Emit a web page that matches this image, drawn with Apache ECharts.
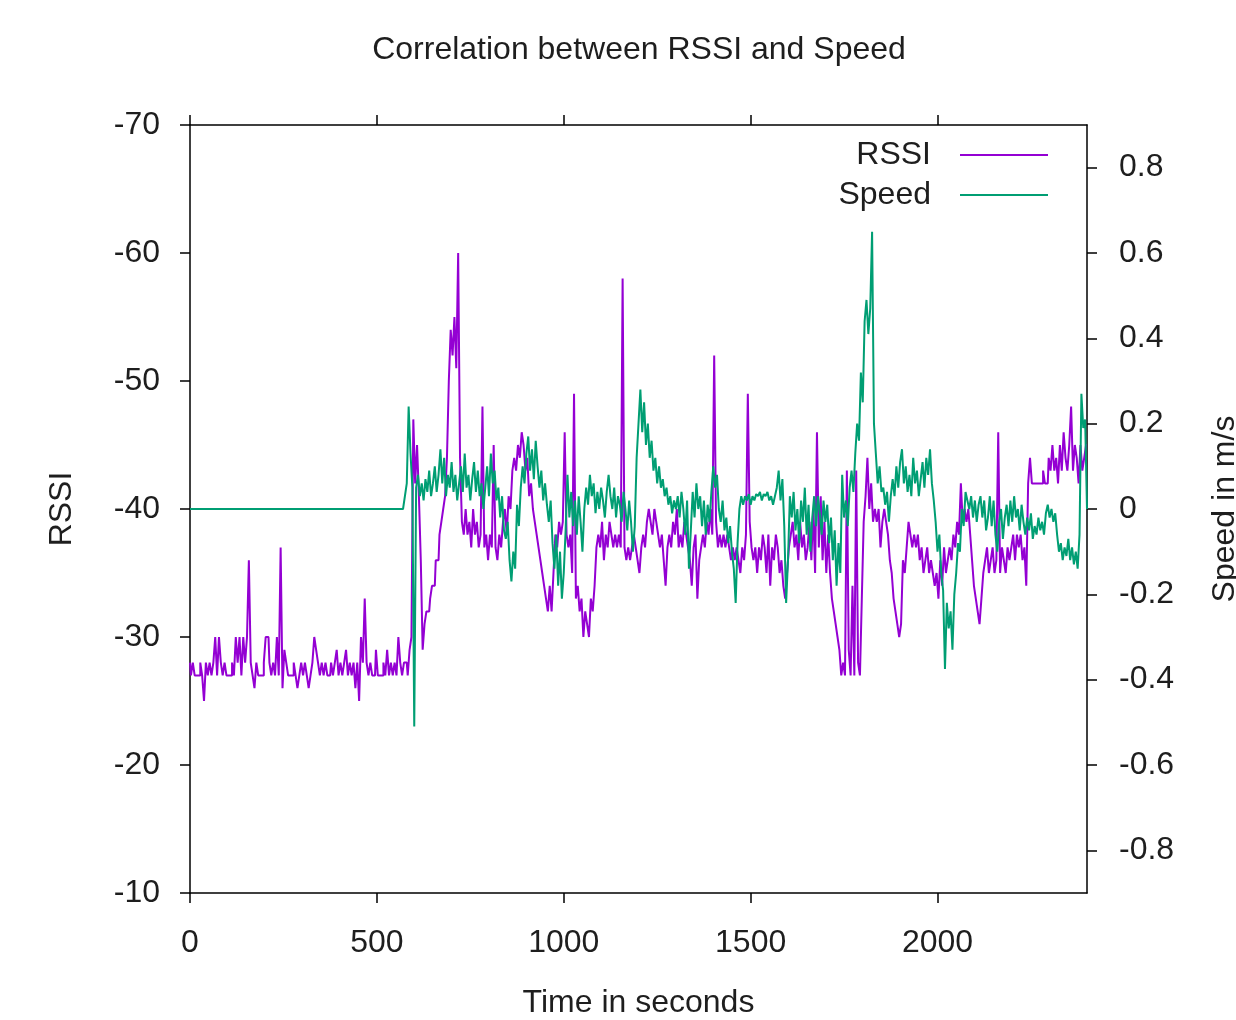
<!DOCTYPE html>
<html><head><meta charset="utf-8">
<script src="https://cdn.jsdelivr.net/npm/echarts@6/dist/echarts.min.js"></script>
<style>html,body{margin:0;padding:0;background:#fff}#c{width:1236px;height:1020px}</style>
</head><body><div id="c"></div>
<script>
const TITLE = 'Correlation between RSSI and Speed';
const X_NAME = 'Time in seconds';
const Y_NAME = 'RSSI';
const Y2_NAME = 'Speed in m/s';
const SERIES_NAMES = ['RSSI', 'Speed'];
const X_TICKS = [0, 500, 1000, 1500, 2000];
const RSSI_TICKS = [-70, -60, -50, -40, -30, -20, -10];
const SPEED_TICKS = [-0.8, -0.6, -0.4, -0.2, 0, 0.2, 0.4, 0.6, 0.8];
const SAMPLE_STEP = 5; // seconds between samples, first sample at t = 0

// RSSI, one row per 100 s (20 samples)
const RSSI = [
-28,-27,-28,-27,-27,-27,-28,-27,-25,-28,-27,-28,-27,-28,-30,-27,-30,-28,-27,-28,
-27,-27,-27,-28,-27,-30,-28,-30,-27,-30,-28,-30,-36,-28,-27,-26,-28,-27,-27,-27,
-28,-30,-30,-28,-27,-28,-27,-30,-27,-37,-26,-29,-28,-27,-27,-27,-28,-27,-26,-27,
-28,-27,-28,-27,-26,-27,-28,-30,-29,-28,-27,-28,-27,-28,-27,-27,-28,-27,-28,-29,
-27,-28,-27,-28,-29,-27,-28,-27,-28,-26,-28,-25,-30,-28,-33,-28,-27,-28,-27,-27,
-29,-27,-27,-27,-28,-27,-29,-27,-28,-27,-28,-27,-30,-28,-27,-28,-28,-27,-29,-30,
-47,-42,-45,-41,-36,-29,-31,-32,-32,-33,-34,-34,-36,-36,-38,-39,-40,-41,-44,-50,
-54,-52,-55,-51,-60,-44,-39,-38,-40,-38,-39,-37,-40,-38,-39,-37,-38,-48,-37,-38,
-36,-38,-37,-45,-37,-36,-38,-37,-39,-40,-38,-41,-40,-43,-44,-43,-45,-44,-46,-45,
-43,-44,-41,-42,-40,-39,-38,-37,-36,-35,-34,-33,-32,-34,-32,-35,-38,-37,-39,-38,
-39,-46,-38,-37,-38,-35,-49,-33,-34,-32,-33,-30,-32,-31,-30,-33,-32,-34,-37,-38,
-37,-39,-36,-38,-37,-39,-38,-37,-38,-37,-38,-37,-58,-37,-36,-37,-36,-37,-38,-37,
-36,-35,-37,-38,-37,-39,-40,-39,-38,-40,-39,-38,-37,-38,-36,-34,-37,-38,-37,-39,
-38,-40,-37,-38,-37,-39,-38,-37,-36,-34,-37,-38,-33,-36,-37,-38,-37,-39,-38,-40,
-38,-52,-39,-37,-38,-37,-38,-37,-38,-37,-36,-37,-36,-37,-36,-35,-37,-36,-38,-49,
-39,-37,-36,-37,-35,-37,-36,-38,-37,-35,-38,-34,-37,-36,-38,-37,-35,-36,-34,-33,
-35,-37,-38,-39,-37,-38,-36,-39,-37,-38,-36,-37,-39,-36,-40,-35,-46,-37,-41,-36,
-39,-35,-38,-35,-33,-32,-31,-30,-29,-27,-28,-27,-43,-29,-27,-34,-27,-43,-28,-27,
-33,-39,-41,-44,-40,-42,-39,-40,-39,-40,-37,-39,-40,-39,-38,-36,-35,-33,-32,-31,
-30,-31,-36,-35,-37,-39,-38,-37,-38,-37,-38,-36,-37,-35,-36,-37,-35,-36,-35,-34,
-35,-33,-36,-34,-37,-35,-36,-37,-36,-38,-37,-39,-38,-42,-39,-40,-39,-40,-38,-36,
-34,-33,-32,-31,-33,-35,-36,-37,-35,-36,-37,-35,-36,-46,-35,-37,-36,-35,-37,-36,
-37,-38,-36,-38,-37,-38,-36,-37,-34,-42,-44,-42,-42,-42,-42,-42,-42,-43,-42,-42,
-44,-43,-45,-43,-44,-42,-45,-43,-46,-44,-43,-45,-48,-43,-45,-44,-42,-45,-43,-44,
-45
];

// Speed (m/s), one row per 100 s (20 samples)
const SPEED = [
0,0,0,0,0,0,0,0,0,0,0,0,0,0,0,0,0,0,0,0,
0,0,0,0,0,0,0,0,0,0,0,0,0,0,0,0,0,0,0,0,
0,0,0,0,0,0,0,0,0,0,0,0,0,0,0,0,0,0,0,0,
0,0,0,0,0,0,0,0,0,0,0,0,0,0,0,0,0,0,0,0,
0,0,0,0,0,0,0,0,0,0,0,0,0,0,0,0,0,0,0,0,
0,0,0,0,0,0,0,0,0,0,0,0,0,0,0,0,0.06,0.24,0.13,0.05,
-0.51,0.05,0.08,0.03,0.06,0.02,0.07,0.04,0.09,0.03,0.06,0.1,0.04,0.08,0.14,0.06,0.12,0.03,0.08,0.05,
0.11,0.04,0.08,0.02,0.06,0.1,0.04,0.13,0.05,0.08,0.02,0.07,0.11,0.04,0.09,0.03,0.06,0.0,0.05,0.1,
0.03,0.13,0.06,0.09,0.02,0.05,-0.02,0.03,-0.05,-0.07,-0.03,-0.12,-0.17,-0.1,-0.14,0.01,-0.04,0.05,0.1,0.06,
0.13,0.17,0.09,0.14,0.07,0.16,0.1,0.05,0.09,0.02,0.06,0.01,-0.03,0.02,-0.08,-0.14,-0.06,-0.18,-0.1,-0.21,
-0.15,-0.05,0.08,-0.02,0.04,-0.04,0.02,-0.06,0.03,-0.03,-0.1,0.0,0.05,0.01,0.08,0.03,0.06,-0.01,0.04,0.0,
0.05,0.02,-0.02,0.04,0.08,0.03,0.0,0.05,-0.02,0.03,0.01,-0.03,0.04,0.0,-0.05,0.02,-0.03,-0.1,-0.04,0.12,
0.2,0.28,0.18,0.25,0.15,0.2,0.12,0.16,0.09,0.12,0.06,0.1,0.05,0.07,0.03,0.05,0.01,0.03,-0.01,0.02,
0.0,0.03,-0.02,0.04,0.0,-0.06,0.02,-0.14,-0.05,0.04,-0.02,0.06,0.0,0.03,-0.04,0.02,-0.06,0.01,-0.03,0.04,
0.1,0.05,0.08,0.0,-0.03,0.02,-0.05,-0.02,-0.08,-0.04,-0.1,-0.14,-0.22,-0.08,0.0,0.03,0.01,0.03,0.02,0.035,
0.01,0.03,0.02,0.035,0.03,0.04,0.02,0.035,0.03,0.04,0.02,0.03,0.01,0.03,0.05,0.09,0.02,0.07,-0.04,-0.22,
-0.12,0.03,-0.02,0.04,-0.05,0.0,-0.08,0.02,-0.03,0.05,-0.06,0.01,-0.1,-0.02,0.03,-0.04,0.03,-0.01,-0.06,0.02,
-0.03,0.01,-0.08,-0.02,-0.12,-0.05,-0.18,-0.08,-0.15,0.08,-0.02,0.02,-0.04,0.05,0.09,0.04,0.13,0.2,0.16,0.32,
0.25,0.44,0.49,0.41,0.47,0.65,0.2,0.13,0.06,0.1,0.04,0.05,0.01,0.04,-0.03,0.03,0.07,0.03,0.1,0.05,
0.11,0.14,0.06,0.1,0.04,0.08,0.03,0.12,0.06,0.09,0.03,0.07,0.11,0.05,0.12,0.08,0.14,0.06,0.02,-0.03,
-0.1,-0.06,-0.15,-0.19,-0.375,-0.22,-0.28,-0.24,-0.33,-0.2,-0.15,-0.08,-0.1,0.0,-0.04,0.04,0.02,0.0,0.03,-0.02,
0.02,-0.03,0.01,0.03,-0.02,0.02,-0.05,-0.02,0.03,-0.04,0.02,-0.06,-0.1,-0.03,0.0,-0.07,-0.02,0.01,-0.04,0.02,
-0.03,0.03,-0.02,0.0,-0.05,0.01,-0.03,-0.06,-0.02,-0.05,-0.01,-0.07,-0.04,-0.06,-0.02,-0.05,-0.03,-0.06,-0.01,0.01,
-0.02,0.0,-0.03,-0.01,-0.06,-0.1,-0.08,-0.12,-0.09,-0.11,-0.07,-0.12,-0.09,-0.13,-0.1,-0.14,-0.06,0.27,0.19,0.21,
0.0
];

const FONT = "'Liberation Sans', Arial, sans-serif";
const TXT = '#1e1e1e';
const AXIS_LINE = { show: true, onZero: false, lineStyle: { color: '#000', width: 1.5 } };
const TICK = (vals) => ({ show: true, inside: false, length: 10, customValues: vals, lineStyle: { color: '#000', width: 1.5 } });
const fmtNum = (v) => String(Math.round(v * 100) / 100);

const chart = echarts.init(document.getElementById('c'), null, { renderer: 'canvas' });
chart.setOption({
  backgroundColor: '#fff',
  animation: false,
  title: {
    text: TITLE, left: 634, top: 29, textAlign: 'center',
    textStyle: { fontFamily: FONT, fontSize: 32, fontWeight: 'normal', color: TXT }
  },
  legend: {
    data: SERIES_NAMES, orient: 'vertical', align: 'right',
    right: 183, top: 134, itemGap: 8, selectedMode: false,
    icon: 'rect', itemWidth: 88, itemHeight: 2,
    textStyle: { fontFamily: FONT, fontSize: 32, color: TXT, padding: [0, 24, 0, 0] }
  },
  grid: { left: 190, right: 149, top: 125, bottom: 127, containLabel: false, outerBoundsMode: 'none' },
  xAxis: [{
    type: 'value', min: 0, max: 2400, position: 'bottom',
    name: X_NAME, nameLocation: 'middle', nameGap: 94,
    nameTextStyle: { fontFamily: FONT, fontSize: 32, color: TXT },
    axisLine: AXIS_LINE, axisTick: TICK(X_TICKS),
    axisLabel: { customValues: X_TICKS, formatter: fmtNum, fontFamily: FONT, fontSize: 32, color: TXT, margin: 34 },
    splitLine: { show: false }
  }, {
    type: 'value', min: 0, max: 2400, position: 'top',
    axisLine: AXIS_LINE, axisTick: TICK(X_TICKS),
    axisLabel: { show: false }, splitLine: { show: false }
  }],
  yAxis: [{
    type: 'value', min: -70, max: -10, interval: 10, inverse: true, position: 'left',
    name: Y_NAME, nameLocation: 'middle', nameGap: 112, nameRotate: 90,
    nameTextStyle: { fontFamily: FONT, fontSize: 32, color: TXT },
    axisLine: AXIS_LINE, axisTick: TICK(RSSI_TICKS),
    axisLabel: { customValues: RSSI_TICKS, formatter: fmtNum, fontFamily: FONT, fontSize: 32, color: TXT, margin: 30 },
    splitLine: { show: false }
  }, {
    type: 'value', min: -0.9, max: 0.9, position: 'right', alignTicks: false,
    name: Y2_NAME, nameLocation: 'middle', nameGap: 122, nameRotate: 90,
    nameTextStyle: { fontFamily: FONT, fontSize: 32, color: TXT },
    axisLine: AXIS_LINE, axisTick: TICK(SPEED_TICKS),
    axisLabel: { customValues: SPEED_TICKS, formatter: fmtNum, fontFamily: FONT, fontSize: 32, color: TXT, margin: 32 },
    splitLine: { show: false }
  }],
  series: [{
    name: SERIES_NAMES[0], type: 'line', xAxisIndex: 0, yAxisIndex: 0,
    data: RSSI.map((v, i) => [i * SAMPLE_STEP, v]),
    step: 'middle', showSymbol: false, symbol: 'none', sampling: null,
    color: '#9400d3', lineStyle: { color: '#9400d3', width: 2 }, z: 2
  }, {
    name: SERIES_NAMES[1], type: 'line', xAxisIndex: 0, yAxisIndex: 1,
    data: SPEED.map((v, i) => [i * SAMPLE_STEP, v]),
    showSymbol: false, symbol: 'none', sampling: null,
    color: '#009e73', lineStyle: { color: '#009e73', width: 2 }, z: 3
  }]
});
</script>
</body></html>
